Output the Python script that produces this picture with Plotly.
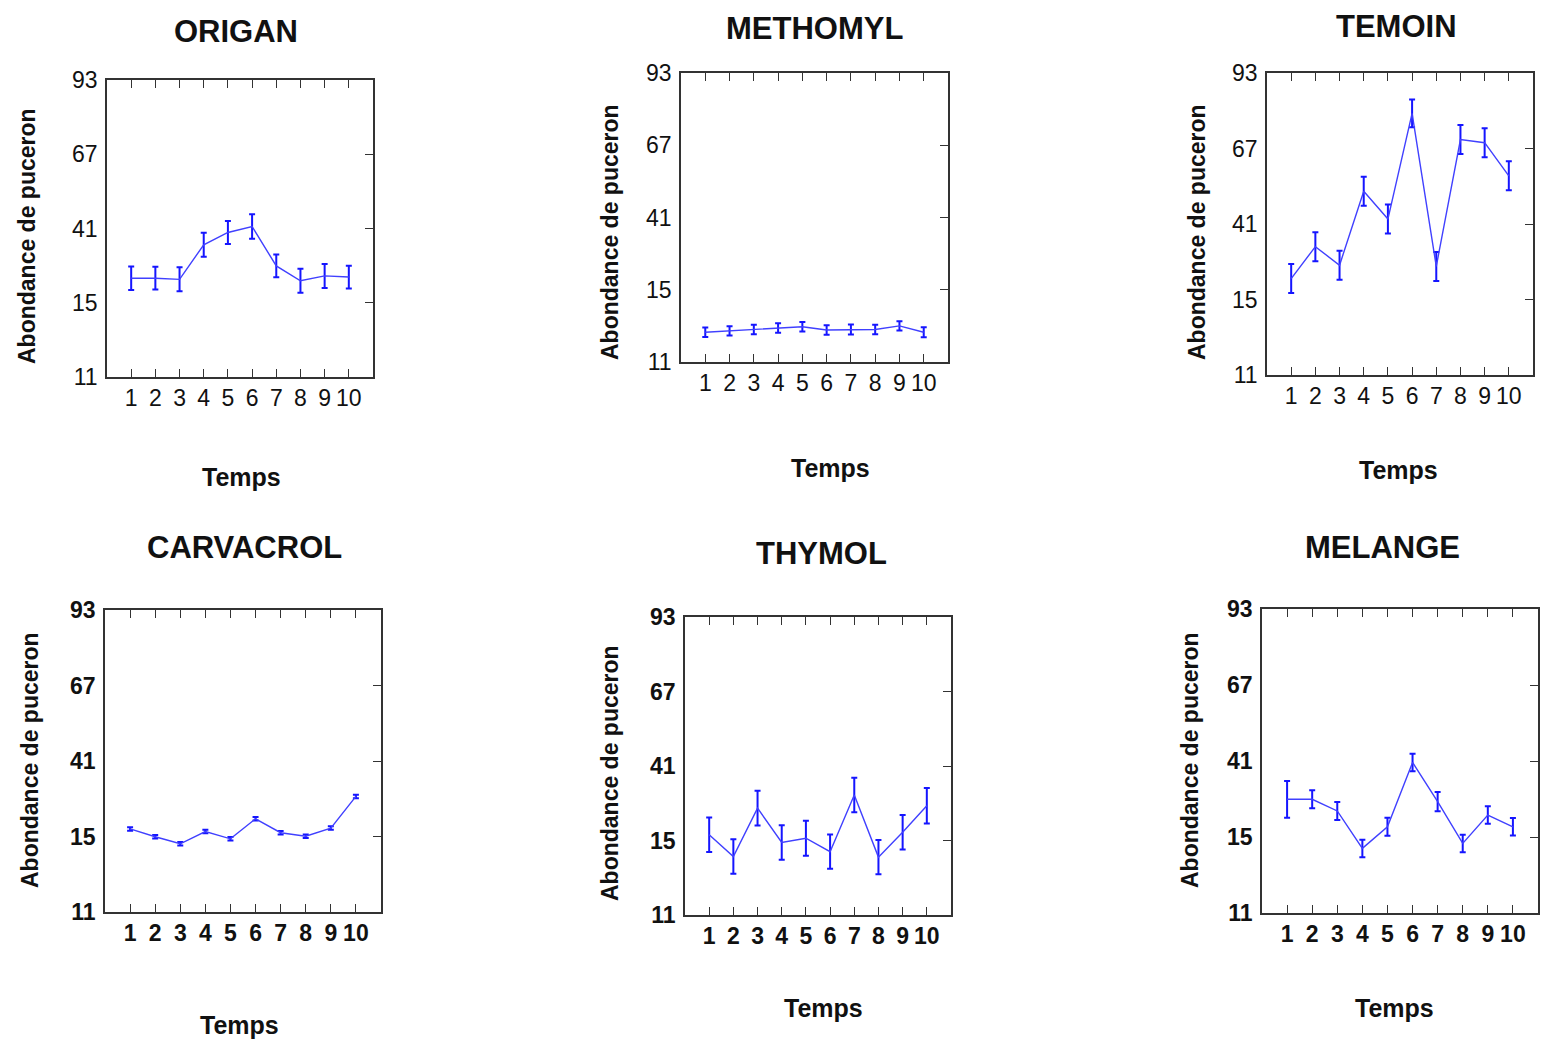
import plotly.graph_objects as go

W, H = 1550, 1040

# Sampling times
temps = list(range(1, 11))

# Aphid abundance per treatment (mean and error)
origan = [23.6, 23.6, 23.2, 35.3, 39.6, 41.7, 27.9, 22.7, 24.4, 24.0]
origan_err = [4.1, 4.0, 4.2, 4.2, 4.0, 4.3, 4.0, 4.2, 4.2, 4.0]

methomyl = [-0.3, 0.2, 0.7, 1.2, 1.7, 0.5, 0.7, 0.7, 2.0, -0.3]
methomyl_err = [1.7, 1.7, 1.7, 1.7, 1.7, 1.7, 1.8, 1.7, 1.7, 1.8]

temoin = [22.2, 33.2, 26.8, 52.3, 42.7, 79.1, 26.4, 70.1, 69.0, 57.6]
temoin_err = [5.0, 5.0, 5.0, 5.0, 5.0, 4.8, 5.0, 5.0, 5.0, 5.0]

carvacrol = [17.6, 14.9, 12.5, 16.7, 14.2, 21.1, 16.3, 15.1, 17.9, 28.8]
carvacrol_err = [0.6, 0.6, 0.6, 0.6, 0.6, 0.6, 0.6, 0.6, 0.6, 0.6]

thymol = [17.0, 9.4, 26.3, 14.3, 15.8, 11.1, 30.9, 9.2, 17.9, 27.1]
thymol_err = [6.0, 6.0, 6.1, 6.0, 6.1, 6.0, 6.0, 6.0, 6.0, 6.2]

melange = [27.9, 27.9, 23.9, 11.1, 18.5, 40.5, 27.1, 12.8, 22.5, 18.5]
melange_err = [6.3, 3.1, 3.1, 3.0, 3.1, 3.0, 3.3, 3.0, 3.0, 3.0]

# Y axis tick positions and their printed labels
y_tickvals = [-11, 15, 41, 67, 93]
y_ticktext = ["11", "15", "41", "67", "93"]
x_tickvals = temps
x_ticktext = [str(t) for t in temps]

titles = ["ORIGAN", "METHOMYL", "TEMOIN", "CARVACROL", "THYMOL", "MELANGE"]
series = [origan, methomyl, temoin, carvacrol, thymol, melange]
errors = [origan_err, methomyl_err, temoin_err, carvacrol_err, thymol_err, melange_err]

# Panel geometry in pixels: plot box (x0, x1, y0, y1), title centre, x-label centre, y-label centre
boxes = [
    (107, 373, 80, 377),
    (681, 948, 73, 362),
    (1267, 1533, 73, 375),
    (105, 381, 610, 912),
    (685, 951, 617, 915),
    (1262, 1538, 609, 913),
]
title_pos = [(236, 31), (815, 28), (1396, 26), (244, 547), (821, 553), (1382, 547)]
xlab_pos = [(241, 477), (830, 468), (1398, 470), (239, 1025), (823, 1008), (1394, 1008)]
ylab_pos = [(27, 236), (610, 232), (1197, 232), (30, 760), (610, 773), (1190, 760)]

FONT = "Liberation Sans, Arial, sans-serif"
LINE_COL = "#4040ff"
ERR_COL = "#1515ff"
AX_COL = "#333333"

fig = go.Figure()
annotations = []
layout = {}

for i in range(6):
    n = i + 1
    xs = "" if n == 1 else str(n)
    yov = str(n + 6)
    x0, x1, y0, y1 = boxes[i]
    bold_row = i >= 3
    tick_font = dict(family=FONT, size=23, color="#111111",
                     weight="bold" if bold_row else "normal")

    fig.add_trace(go.Scatter(
        x=temps, y=series[i],
        mode="lines",
        line=dict(color=LINE_COL, width=1.4),
        error_y=dict(type="data", array=errors[i], visible=True,
                     color=ERR_COL, thickness=2, width=3),
        xaxis="x" + xs, yaxis="y" + xs,
        showlegend=False, hoverinfo="x+y",
    ))
    # empty trace so the right-hand tick axis is rendered
    fig.add_trace(go.Scatter(
        x=[None], y=[None], mode="lines",
        xaxis="x" + xs, yaxis="y" + yov, showlegend=False, hoverinfo="skip",
    ))

    layout["xaxis" + xs] = dict(
        domain=[x0 / W, x1 / W], anchor="y" + xs,
        range=[0, 11], tickmode="array",
        tickvals=x_tickvals, ticktext=x_ticktext,
        ticks="inside", ticklen=8, tickwidth=1.3, tickcolor=AX_COL,
        showline=True, linecolor=AX_COL, linewidth=1.6, mirror="ticks",
        showgrid=False, zeroline=False, tickfont=tick_font,
        automargin=False, fixedrange=True,
    )
    layout["yaxis" + xs] = dict(
        domain=[1 - y1 / H, 1 - y0 / H], anchor="x" + xs,
        range=[-11, 93], tickmode="array",
        tickvals=y_tickvals, ticktext=y_ticktext,
        ticks="", showline=True, linecolor=AX_COL, linewidth=1.6, mirror=True,
        showgrid=False, zeroline=False, tickfont=tick_font,
        ticklabelstandoff=3, automargin=False, fixedrange=True,
    )
    layout["yaxis" + yov] = dict(
        overlaying="y" + xs, anchor="x" + xs, side="right",
        range=[-11, 93], tickmode="array", tickvals=y_tickvals,
        showticklabels=False, ticks="inside", ticklen=8, tickwidth=1.3,
        tickcolor=AX_COL, showline=False, showgrid=False, zeroline=False,
        automargin=False, fixedrange=True,
    )

    tx, ty = title_pos[i]
    annotations.append(dict(
        text=titles[i], x=tx / W, y=1 - ty / H, xref="paper", yref="paper",
        xanchor="center", yanchor="middle", showarrow=False,
        font=dict(family=FONT, size=31, color="#111111", weight="bold"),
    ))
    lx, ly = xlab_pos[i]
    annotations.append(dict(
        text="Temps", x=lx / W, y=1 - ly / H, xref="paper", yref="paper",
        xanchor="center", yanchor="middle", showarrow=False,
        font=dict(family=FONT, size=25, color="#111111", weight="bold"),
    ))
    vx, vy = ylab_pos[i]
    annotations.append(dict(
        text="Abondance de puceron", x=vx / W, y=1 - vy / H,
        xref="paper", yref="paper", xanchor="center", yanchor="middle",
        textangle=-90, showarrow=False,
        font=dict(family=FONT, size=23, color="#111111", weight="bold"),
    ))

fig.update_layout(
    width=W, height=H,
    margin=dict(l=0, r=0, t=0, b=0, autoexpand=False),
    paper_bgcolor="white", plot_bgcolor="white",
    annotations=annotations,
    **layout,
)

fig.write_html("out.html")
